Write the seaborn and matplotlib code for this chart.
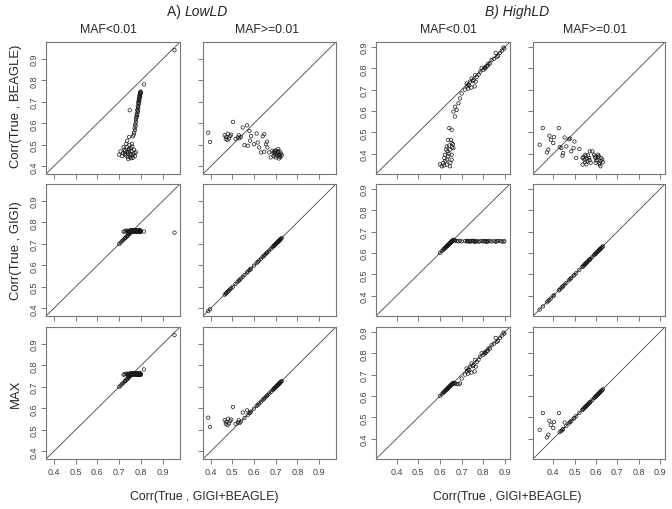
import numpy as np
import pandas as pd
import matplotlib
matplotlib.use("Agg")
import matplotlib.pyplot as plt
import seaborn as sns

# ---------------- data ----------------
ticks = [0.4, 0.5, 0.6, 0.7, 0.8, 0.9]
tick_labels = ["0.4", "0.5", "0.6", "0.7", "0.8", "0.9"]
group_titles = ["A) ", "LowLD", "B) HighLD"]
col_titles = ["MAF<0.01", "MAF>=0.01", "MAF<0.01", "MAF>=0.01"]
row_labels = ["Corr(True , BEAGLE)", "Corr(True , GIGI)", "MAX"]
x_label = "Corr(True , GIGI+BEAGLE)"

# LowLD, MAF<0.01
c1_x = [0.797, 0.795, 0.793, 0.796, 0.790, 0.792, 0.788, 0.790, 0.785, 0.787, 0.783, 0.785, 0.780, 0.782,
        0.778, 0.776, 0.777, 0.773, 0.775, 0.770, 0.772, 0.768, 0.766, 0.763, 0.748, 0.813, 0.953,
        0.700, 0.706, 0.712, 0.718, 0.724, 0.729, 0.734, 0.739, 0.743, 0.747, 0.751, 0.755,
        0.725, 0.732, 0.738, 0.744, 0.750, 0.756, 0.760, 0.764, 0.768, 0.772, 0.776, 0.741, 0.758, 0.736,
        0.752, 0.762, 0.720, 0.745, 0.799, 0.794, 0.789,
        0.798, 0.796, 0.794, 0.792, 0.791, 0.788, 0.786, 0.784, 0.781, 0.779, 0.770, 0.746, 0.754, 0.735, 0.727]
c1_beagle = [0.745, 0.737, 0.730, 0.722, 0.715, 0.706, 0.698, 0.690, 0.681, 0.672, 0.663, 0.653, 0.645, 0.636,
             0.626, 0.616, 0.606, 0.596, 0.588, 0.578, 0.569, 0.558, 0.548, 0.540, 0.661, 0.781, 0.940,
             0.455, 0.470, 0.448, 0.462, 0.478, 0.452, 0.490, 0.444, 0.468, 0.500, 0.458, 0.438,
             0.470, 0.505, 0.460, 0.482, 0.445, 0.472, 0.492, 0.455, 0.478, 0.448, 0.466, 0.435, 0.505, 0.520,
             0.485, 0.440, 0.490, 0.537, 0.740, 0.725, 0.705,
             0.748, 0.742, 0.733, 0.719, 0.711, 0.694, 0.676, 0.659, 0.640, 0.631, 0.462, 0.475, 0.452, 0.468, 0.458]
c1_gigi = [0.760, 0.757, 0.762, 0.755, 0.759, 0.763, 0.756, 0.760, 0.758, 0.761, 0.757, 0.762, 0.759, 0.755,
           0.760, 0.764, 0.758, 0.761, 0.756, 0.759, 0.762, 0.757, 0.760, 0.763, 0.752, 0.757, 0.752,
           0.700, 0.706, 0.712, 0.718, 0.724, 0.729, 0.734, 0.739, 0.743, 0.747, 0.751, 0.755,
           0.758, 0.762, 0.760, 0.757, 0.763, 0.759, 0.761, 0.756, 0.760, 0.758, 0.762, 0.759, 0.764, 0.756,
           0.755, 0.762, 0.757, 0.758, 0.758, 0.761, 0.757,
           0.759, 0.763, 0.756, 0.760, 0.762, 0.758, 0.761, 0.757, 0.760, 0.762, 0.764, 0.761, 0.758, 0.735, 0.727]
c1_max = [0.760, 0.757, 0.762, 0.755, 0.759, 0.763, 0.756, 0.760, 0.758, 0.761, 0.757, 0.762, 0.759, 0.755,
          0.760, 0.764, 0.758, 0.761, 0.756, 0.759, 0.762, 0.757, 0.760, 0.763, 0.752, 0.781, 0.940,
          0.700, 0.706, 0.712, 0.718, 0.724, 0.729, 0.734, 0.739, 0.743, 0.747, 0.751, 0.755,
          0.758, 0.762, 0.760, 0.757, 0.763, 0.759, 0.761, 0.756, 0.760, 0.758, 0.762, 0.759, 0.764, 0.756,
          0.755, 0.762, 0.757, 0.758, 0.758, 0.761, 0.757,
          0.759, 0.763, 0.756, 0.760, 0.762, 0.758, 0.761, 0.757, 0.760, 0.762, 0.764, 0.761, 0.758, 0.735, 0.727]

# LowLD, MAF>=0.01
c2_x = [0.389, 0.397, 0.503, 0.465, 0.472, 0.480, 0.485, 0.490, 0.478, 0.495, 0.470, 0.515, 0.525, 0.533,
        0.540, 0.530, 0.548, 0.568, 0.579, 0.586, 0.612, 0.647, 0.556, 0.571, 0.600, 0.617, 0.624, 0.655,
        0.662, 0.647, 0.670, 0.685, 0.690, 0.697, 0.705, 0.712, 0.690, 0.712, 0.720, 0.700, 0.677, 0.715,
        0.632, 0.725, 0.708, 0.695, 0.718, 0.722,
        0.705, 0.715, 0.710, 0.728, 0.700, 0.719, 0.692, 0.582, 0.640, 0.660]
c2_beagle = [0.557, 0.514, 0.607, 0.545, 0.537, 0.552, 0.530, 0.541, 0.522, 0.548, 0.528, 0.528, 0.535, 0.531,
             0.538, 0.545, 0.581, 0.591, 0.565, 0.542, 0.553, 0.550, 0.499, 0.496, 0.503, 0.511, 0.488, 0.503,
             0.488, 0.468, 0.465, 0.473, 0.462, 0.470, 0.455, 0.465, 0.448, 0.480, 0.452, 0.442, 0.442, 0.437,
             0.465, 0.460, 0.448, 0.455, 0.470, 0.443,
             0.462, 0.455, 0.470, 0.452, 0.475, 0.446, 0.468, 0.520, 0.540, 0.515]
c2_gigi = [0.388, 0.396, 0.501, 0.464, 0.471, 0.479, 0.484, 0.489, 0.477, 0.494, 0.469, 0.514, 0.524, 0.532,
           0.539, 0.529, 0.547, 0.567, 0.578, 0.585, 0.611, 0.646, 0.555, 0.570, 0.599, 0.616, 0.623, 0.654,
           0.661, 0.646, 0.669, 0.684, 0.689, 0.696, 0.704, 0.711, 0.689, 0.711, 0.719, 0.699, 0.676, 0.714,
           0.631, 0.724, 0.707, 0.694, 0.717, 0.721,
           0.704, 0.714, 0.709, 0.727, 0.699, 0.718, 0.691, 0.581, 0.639, 0.659]
c2_max = [0.557, 0.514, 0.607, 0.545, 0.537, 0.552, 0.530, 0.541, 0.522, 0.548, 0.528, 0.528, 0.535, 0.532,
          0.539, 0.545, 0.581, 0.591, 0.578, 0.585, 0.611, 0.646, 0.555, 0.570, 0.599, 0.616, 0.623, 0.654,
          0.661, 0.646, 0.669, 0.684, 0.689, 0.696, 0.704, 0.711, 0.689, 0.711, 0.719, 0.699, 0.676, 0.714,
          0.631, 0.724, 0.707, 0.694, 0.717, 0.721,
          0.704, 0.714, 0.709, 0.727, 0.699, 0.718, 0.691, 0.581, 0.639, 0.659]

# HighLD, MAF<0.01
c3_x = [0.897, 0.885, 0.877, 0.862, 0.857, 0.850, 0.838, 0.830, 0.823, 0.815, 0.808, 0.800, 0.792, 0.785,
        0.778, 0.770, 0.762, 0.755, 0.746, 0.738, 0.730, 0.723, 0.745, 0.730, 0.760, 0.715, 0.700, 0.692,
        0.685, 0.669, 0.677, 0.662, 0.669, 0.643, 0.654,
        0.638, 0.654, 0.631, 0.646, 0.662, 0.623, 0.638, 0.654, 0.615, 0.631, 0.646, 0.654, 0.635, 0.608,
        0.650, 0.625, 0.642, 0.660, 0.620, 0.600,
        0.810, 0.725, 0.765, 0.868, 0.893,
        0.633, 0.648, 0.640, 0.628, 0.656, 0.618, 0.805, 0.820, 0.752, 0.735]
c3_beagle = [0.892, 0.882, 0.872, 0.853, 0.872, 0.845, 0.838, 0.822, 0.822, 0.810, 0.805, 0.792, 0.800, 0.784,
             0.770, 0.760, 0.768, 0.745, 0.752, 0.737, 0.722, 0.729, 0.710, 0.705, 0.715, 0.700, 0.682, 0.659,
             0.636, 0.620, 0.605, 0.597, 0.574, 0.520, 0.512,
             0.465, 0.450, 0.434, 0.419, 0.426, 0.395, 0.388, 0.372, 0.357, 0.349, 0.341, 0.395, 0.411, 0.341,
             0.465, 0.365, 0.438, 0.445, 0.380, 0.350,
             0.800, 0.715, 0.738, 0.858, 0.897,
             0.372, 0.358, 0.400, 0.420, 0.430, 0.345, 0.800, 0.812, 0.740, 0.720]
c3_gigi = [0.656, 0.654, 0.657, 0.655, 0.653, 0.656, 0.654, 0.657, 0.655, 0.653, 0.656, 0.654, 0.657, 0.655,
           0.653, 0.656, 0.654, 0.657, 0.655, 0.653, 0.656, 0.654, 0.657, 0.655, 0.653, 0.656, 0.654, 0.657,
           0.655, 0.660, 0.656, 0.659, 0.658, 0.643, 0.654,
           0.638, 0.654, 0.631, 0.646, 0.662, 0.623, 0.638, 0.654, 0.615, 0.631, 0.646, 0.654, 0.635, 0.608,
           0.650, 0.625, 0.642, 0.660, 0.620, 0.600,
           0.655, 0.657, 0.654, 0.656, 0.653,
           0.633, 0.648, 0.640, 0.628, 0.656, 0.618, 0.656, 0.654, 0.657, 0.655]
c3_max = [0.892, 0.882, 0.872, 0.853, 0.872, 0.845, 0.838, 0.822, 0.822, 0.810, 0.805, 0.792, 0.800, 0.784,
          0.770, 0.760, 0.768, 0.745, 0.752, 0.737, 0.722, 0.729, 0.710, 0.705, 0.715, 0.700, 0.682, 0.659,
          0.655, 0.660, 0.656, 0.659, 0.658, 0.643, 0.654,
          0.638, 0.654, 0.631, 0.646, 0.662, 0.623, 0.638, 0.654, 0.615, 0.631, 0.646, 0.654, 0.635, 0.608,
          0.650, 0.625, 0.642, 0.660, 0.620, 0.600,
          0.800, 0.715, 0.738, 0.858, 0.897,
          0.633, 0.648, 0.640, 0.628, 0.656, 0.618, 0.800, 0.812, 0.740, 0.720]

# HighLD, MAF>=0.01
c4_x = [0.351, 0.426, 0.336, 0.382, 0.403, 0.388, 0.400, 0.377, 0.370, 0.430, 0.438, 0.453, 0.473, 0.479,
        0.461, 0.446, 0.443, 0.499, 0.495, 0.484, 0.522, 0.507, 0.571, 0.537, 0.545, 0.552, 0.560, 0.568,
        0.575, 0.555, 0.591, 0.598, 0.606, 0.613, 0.621, 0.598, 0.617, 0.629, 0.621, 0.583, 0.537, 0.550,
        0.610, 0.632,
        0.556, 0.563, 0.548, 0.602, 0.608, 0.615, 0.625, 0.570, 0.595, 0.541]
c4_beagle = [0.520, 0.520, 0.442, 0.484, 0.478, 0.465, 0.450, 0.419, 0.406, 0.431, 0.426, 0.476, 0.468, 0.471,
             0.434, 0.403, 0.391, 0.457, 0.426, 0.411, 0.422, 0.380, 0.411, 0.380, 0.372, 0.388, 0.365, 0.380,
             0.358, 0.350, 0.395, 0.380, 0.372, 0.388, 0.365, 0.357, 0.350, 0.372, 0.341, 0.411, 0.349, 0.395,
             0.395, 0.360,
             0.376, 0.392, 0.360, 0.368, 0.384, 0.356, 0.380, 0.370, 0.386, 0.385]
c4_gigi = [0.350, 0.425, 0.335, 0.381, 0.402, 0.387, 0.399, 0.376, 0.369, 0.429, 0.437, 0.452, 0.472, 0.478,
           0.460, 0.445, 0.442, 0.498, 0.494, 0.483, 0.521, 0.506, 0.570, 0.536, 0.544, 0.551, 0.559, 0.567,
           0.574, 0.554, 0.590, 0.597, 0.605, 0.612, 0.620, 0.597, 0.616, 0.628, 0.620, 0.582, 0.536, 0.549,
           0.609, 0.631,
           0.555, 0.562, 0.547, 0.601, 0.607, 0.614, 0.624, 0.569, 0.594, 0.540]
c4_max = [0.520, 0.520, 0.442, 0.484, 0.478, 0.465, 0.450, 0.419, 0.406, 0.431, 0.437, 0.476, 0.472, 0.478,
          0.460, 0.445, 0.442, 0.498, 0.494, 0.483, 0.521, 0.506, 0.570, 0.536, 0.544, 0.551, 0.559, 0.567,
          0.574, 0.554, 0.590, 0.597, 0.605, 0.612, 0.620, 0.597, 0.616, 0.628, 0.620, 0.582, 0.536, 0.549,
          0.609, 0.631,
          0.555, 0.562, 0.547, 0.601, 0.607, 0.614, 0.624, 0.569, 0.594, 0.540]

columns = [
    (c1_x, [c1_beagle, c1_gigi, c1_max]),
    (c2_x, [c2_beagle, c2_gigi, c2_max]),
    (c3_x, [c3_beagle, c3_gigi, c3_max]),
    (c4_x, [c4_beagle, c4_gigi, c4_max]),
]

# ---------------- layout / style ----------------
sns.set_theme(style="white")
plt.rcParams['font.family'] = ['Liberation Sans', 'DejaVu Sans']

W, H = 672, 510
fig = plt.figure(figsize=(W / 100, H / 100), dpi=100)
fig.patch.set_facecolor("white")

col_lr = [(46, 180), (203, 336), (376, 510), (533, 665)]
row_tb = [(43, 175), (185, 317), (328, 460)]
lims = [(0.365, 0.978), (0.365, 0.978), (0.305, 0.923), (0.305, 0.923)]

for ci, (l, r) in enumerate(col_lr):
    xs, ys_list = columns[ci]
    lo, hi = lims[ci]
    for ri, (t, b) in enumerate(row_tb):
        ax = fig.add_axes([l / W, 1 - b / H, (r - l) / W, (b - t) / H])
        ax.set_facecolor("white")
        ax.plot([lo, hi], [lo, hi], color="#444444", lw=0.6, zorder=1)
        df = pd.DataFrame({"x": xs, "y": ys_list[ri]})
        sns.scatterplot(data=df, x="x", y="y", ax=ax, marker="o", s=6,
                        facecolors="none", edgecolor="#1a1a1a", linewidth=0.5, zorder=2)
        ax.set_xlim(lo, hi)
        ax.set_ylim(lo, hi)
        ax.set_xlabel("")
        ax.set_ylabel("")
        ax.set_xticks(ticks)
        ax.set_yticks(ticks)
        ax.tick_params(axis="both", direction="out", length=3.5, width=0.6,
                       color="#666666", labelsize=6.5, labelcolor="#444444", pad=2,
                       bottom=True, left=True)
        if ri == 2:
            ax.set_xticklabels(tick_labels)
        else:
            ax.set_xticklabels([])
        if ci in (0, 2):
            ax.set_yticklabels(tick_labels, rotation=90, va="center")
        else:
            ax.set_yticklabels([])
        for sp in ax.spines.values():
            sp.set_color("#777777")
            sp.set_linewidth(0.8)
            sp.set_visible(True)

# group titles
fig.text(185 / W, 1 - 12 / H, group_titles[0], ha="right", va="center", fontsize=10)
fig.text(185 / W, 1 - 12 / H, group_titles[1], ha="left", va="center", fontsize=10, style="italic")
fig.text(517 / W, 1 - 12 / H, group_titles[2], ha="center", va="center", fontsize=10, style="italic")

# column titles
for cx, title in zip([108, 267, 448, 595], col_titles):
    fig.text(cx / W, 1 - 30 / H, title, ha="center", va="center", fontsize=8.8)

# row labels
for cy, lab in zip([106, 251, 394], row_labels):
    fig.text(16 / W, 1 - cy / H, lab, ha="center", va="center", rotation=90, fontsize=9.4)

# x labels
for cx in [204, 507]:
    fig.text(cx / W, 1 - 497 / H, x_label, ha="center", va="center", fontsize=8.8)

fig.savefig("out.png", dpi=100, facecolor="white")
